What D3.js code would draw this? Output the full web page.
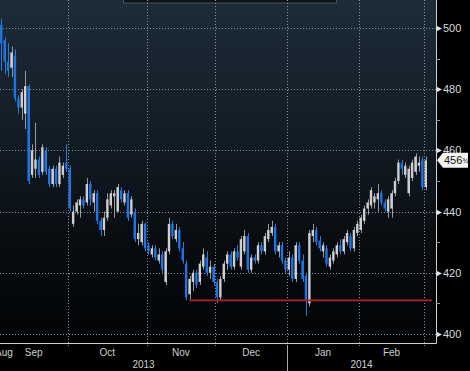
<!DOCTYPE html>
<html>
<head>
<meta charset="utf-8">
<script src="https://cdn.jsdelivr.net/npm/d3@7"></script>
<style>
  html, body { margin: 0; padding: 0; background: #000; }
  svg { display: block; }
  text { font-family: "Liberation Sans", Arial, sans-serif; }
</style>
</head>
<body>
<div id="chart"></div>
<script>
// trading days by month (Aug 30 2013 - Mar 3 2014)
var monthKeys   = ["2013-08", "2013-09", "2013-10", "2013-11", "2013-12", "2014-01", "2014-02", "2014-03"];
var monthLabels = ["Aug", "Sep", "Oct", "Nov", "Dec", "Jan", "Feb", ""];
var aug13 = [30];
var sep13 = [3,4,5,6,9,10,11,12,13,16,17,18,19,20,23,24,25,26,27,30];
var oct13 = [1,2,3,4,7,8,9,10,11,14,15,16,17,18,21,22,23,24,25,28,29,30,31];
var nov13 = [1,4,5,6,7,8,11,12,13,14,15,18,19,20,21,22,25,26,27,29];
var dec13 = [2,3,4,5,6,9,10,11,12,13,16,17,18,19,20,23,24,26,27,30,31];
var jan14 = [2,3,6,7,8,9,10,13,14,15,16,17,21,22,23,24,27,28,29,30,31];
var feb14 = [3,4,5,6,7,10,11,12,13,14,18,19,20,21,24,25,26,27,28];
var mar14 = [3];
var monthDays = [aug13, sep13, oct13, nov13, dec13, jan14, feb14, mar14];

// OHLC
var open = [
  497,501,496,489,487,491,477,474,472,481, 452,454,457,453,460,454,449,454,449,452,
  456,454,436,440,442,444,443,449,443,446, 437,434,438,442,445,440,447,443,446,439,
  440,431,430,436,429,426,428,424,426,417, 427,436,431,434,428,423,413,417,420,417,
  422,425,420,422,417,412,418,423,426,422, 427,422,427,432,421,425,424,429,427,431,
  433,435,427,429,424,421,425,418,429,424, 419,410,432,434,430.5,427,428,422,424,426,
  429,427,430,432,428,433,434,437,441,442, 443,444,446,443,440,441,446,450,456,452,
  446,451,453,455,457,448
];
var high = [
  503,503,497,495,494,493,478,480,486,481.5, 462,469,458,462,461,455,455,455,458,456,
  462,455,442,444,445,445,451,450,447,447, 438,440,446,447,447,449,448,447,447,445,
  441,436,437,436.5,430,429,429,428,427,428, 438,437,436,435,430,424,419,421,421,424,
  428,427,424,423,418,419,424,427,427,428, 429,432,434,433,426,426,430,430,433,436,
  437,436,430,430,425,427,426,430,430,426, 420,434,436,435,432,430,429,426,428,430,
  431,432,434,433,435,437,439,442,444,448, 446,449,447,444,445,447,451,457,457,456,
  455,457,459,458,458,458
];
var low = [
  495,486,485,484,484,476,472,470,467,449, 451,451,451,452,452,448,448,448,448,451,
  453,440,435,439,438,441,442,442,440,436, 432,432,437,441,438,440,443,442,437,438,
  430,429,429,427,426,425,424,423,420,416, 426,431,430,427,423,411,411,414,415,416,
  421,419,418,416,410,411,417,421,421,421, 424,421,426,420,420,423,423,426,426,430,
  432,426,425,423,420,419,417,417,423,417, 406,409,430,429,427,425,422,421,423,425,
  426,426,429,427,427,432,433,436,439,441, 441,440,442,440,438,438,445,449,452,451,
  445,450,452,453,447,447
];
var close = [
  501,495,489,486,492,477,474,479,481,450, 460,457,452,461,453,449,454,449,456,455,
  454,441,440,443,444,442,449,444,446,437, 434,438,444,446,446,448,444,446,438,444,
  431,433,436,428,427,428,425,426,421,427, 436,432,434,428,424,412,418,420,416,423,
  426,420,422,417,412,418,423,426,422,427, 425,431,432,421,425,424,429,427,432,434,
  435,427,429,424,421,425,418,429,424,418, 411,433,434,430,428,429,423,425,427,429,
  427,431,433,428,434,436,438,441,443,447, 445,446,443,441,444,446,450,456,454,455,
  454,456,458,456,448,456.75
];

var supportLevel = 411;
var supportStart = "2013-11-19";
var lastPrice = 456.75;

var yMajor = [400, 420, 440, 460, 480, 500];
var yMinor = [410, 430, 450, 470, 490];
var years = ["2013", "2014"];

// ---- layout
var width = 470, height = 371,
    plotRight = 436, plotBottom = 343;

var dates = [];
monthKeys.forEach(function(k, i) {
  monthDays[i].forEach(function(d) { dates.push(k + "-" + (d < 10 ? "0" + d : d)); });
});

var data = dates.map(function(d, i) {
  return { date: d, month: d.slice(0, 7), o: open[i], h: high[i], l: low[i], c: close[i] };
});

var x = d3.scaleBand()
  .domain(dates)
  .range([-3.9, 427.5])
  .paddingInner(0.3)
  .paddingOuter(0.15);

var y = d3.scaleLinear()
  .domain([400, 500])
  .range([334, 28]);

var step = x.step(), bw = x.bandwidth();
function edge(d) { return x(d) - (step - bw) / 2; }
function mid(d) { return x(d) + bw / 2; }

var svg = d3.select("#chart").append("svg")
  .attr("width", width)
  .attr("height", height);

svg.append("rect").attr("width", width).attr("height", height).attr("fill", "#000");

var defs = svg.append("defs");
var grad = defs.append("linearGradient").attr("id", "bg")
  .attr("x1", 0).attr("y1", 0).attr("x2", 0).attr("y2", 1);
grad.append("stop").attr("offset", "0%").attr("stop-color", "#1d2c38");
grad.append("stop").attr("offset", "40%").attr("stop-color", "#121c25");
grad.append("stop").attr("offset", "72%").attr("stop-color", "#080c10");
grad.append("stop").attr("offset", "100%").attr("stop-color", "#020304");

defs.append("clipPath").attr("id", "plotclip")
  .append("rect").attr("width", plotRight).attr("height", plotBottom);

svg.append("rect")
  .attr("width", plotRight).attr("height", plotBottom)
  .attr("fill", "url(#bg)");

// little box at the top edge
svg.append("rect")
  .attr("x", 123.5).attr("y", -6).attr("width", 213).attr("height", 9)
  .attr("fill", "#0b1117").attr("stroke", "#46545f");

// month boundaries
var monthFirst = monthKeys.map(function(k) {
  return data.filter(function(d) { return d.month === k; })[0].date;
});
var monthLast = monthKeys.map(function(k) {
  var m = data.filter(function(d) { return d.month === k; });
  return m[m.length - 1].date;
});

var grid = svg.append("g").attr("clip-path", "url(#plotclip)");

grid.selectAll(".hgrid")
  .data(yMajor)
  .enter().append("line")
  .attr("x1", 0).attr("x2", plotRight)
  .attr("y1", function(d) { return Math.round(y(d)) + 0.5; })
  .attr("y2", function(d) { return Math.round(y(d)) + 0.5; })
  .attr("stroke", "#8a949c")
  .attr("stroke-dasharray", "1,2");

svg.selectAll(".vgrid")
  .data(monthFirst.slice(2))
  .enter().append("line")
  .attr("x1", function(d) { return Math.round(edge(d)) + 0.5; })
  .attr("x2", function(d) { return Math.round(edge(d)) + 0.5; })
  .attr("y1", 0).attr("y2", plotBottom + 3)
  .attr("stroke", "#8a949c")
  .attr("stroke-dasharray", "1,2");

// candles
var candles = svg.append("g").attr("clip-path", "url(#plotclip)")
  .selectAll(".candle")
  .data(data)
  .enter().append("g");

candles.append("line")
  .attr("x1", function(d) { return Math.round(mid(d.date)) + 0.5; })
  .attr("x2", function(d) { return Math.round(mid(d.date)) + 0.5; })
  .attr("y1", function(d) { return y(d.h); })
  .attr("y2", function(d) { return y(d.l); })
  .attr("stroke", function(d) { return d.c < d.o ? "#2d7be0" : "#9a9a9a"; })
  .attr("stroke-width", 1);

candles.append("rect")
  .attr("x", function(d) { return x(d.date); })
  .attr("width", bw)
  .attr("y", function(d) { return y(Math.max(d.o, d.c)); })
  .attr("height", function(d) { return Math.max(1, Math.abs(y(d.o) - y(d.c))); })
  .attr("fill", function(d) { return d.c < d.o ? "#1f74e6" : "#cfcfcf"; });

// support line
svg.append("line")
  .attr("x1", mid(supportStart)).attr("x2", x.range()[1] + 4.5)
  .attr("y1", y(supportLevel)).attr("y2", y(supportLevel))
  .attr("stroke", "#b3202a")
  .attr("stroke-width", 1.6);

// axes lines
svg.append("line")
  .attr("x1", 0).attr("x2", plotRight + 0.5)
  .attr("y1", plotBottom + 0.5).attr("y2", plotBottom + 0.5)
  .attr("stroke", "#d0d0d0");
svg.append("line")
  .attr("x1", plotRight + 0.5).attr("x2", plotRight + 0.5)
  .attr("y1", 0).attr("y2", plotBottom + 0.5)
  .attr("stroke", "#d0d0d0");

// right axis
var yAxis = svg.append("g");
yAxis.selectAll(".minor")
  .data(yMinor)
  .enter().append("line")
  .attr("x1", plotRight).attr("x2", plotRight + 4)
  .attr("y1", function(d) { return Math.round(y(d)) + 0.5; })
  .attr("y2", function(d) { return Math.round(y(d)) + 0.5; })
  .attr("stroke", "#9a9a9a");

yAxis.selectAll(".tri")
  .data(yMajor)
  .enter().append("path")
  .attr("d", function(d) {
    var yy = Math.round(y(d)) + 0.5;
    return "M" + (plotRight + 1) + "," + (yy - 2.5) + "L" + (plotRight + 6) + "," + yy + "L" + (plotRight + 1) + "," + (yy + 2.5) + "Z";
  })
  .attr("fill", "#e8e8e8");

yAxis.selectAll(".lab")
  .data(yMajor)
  .enter().append("text")
  .attr("x", plotRight + 7)
  .attr("y", function(d) { return y(d) + 4; })
  .attr("font-size", 11)
  .attr("fill", "#d8d8d8")
  .text(function(d) { return d; });

// last price flag
var ly = y(lastPrice);
svg.append("path")
  .attr("d", "M" + (plotRight + 1) + "," + ly + "L" + (plotRight + 7) + "," + (ly - 7.5) +
             "L468," + (ly - 7.5) + "L468," + (ly + 7.5) + "L" + (plotRight + 7) + "," + (ly + 7.5) + "Z")
  .attr("fill", "#f4f4f4");
var lt = svg.append("text")
  .attr("x", plotRight + 8)
  .attr("y", ly + 4)
  .attr("font-size", 11)
  .attr("fill", "#111");
lt.append("tspan").text("456");
lt.append("tspan").attr("font-size", 8).attr("dy", -1).text("¾");

// month labels
svg.selectAll(".mlab")
  .data(monthKeys)
  .enter().append("text")
  .attr("x", function(d, i) {
    var a = edge(monthFirst[i]), b = edge(monthLast[i]) + step;
    return Math.max((a + b) / 2, 4);
  })
  .attr("y", 356)
  .attr("text-anchor", "middle")
  .attr("font-size", 10)
  .attr("fill", "#cfcfcf")
  .text(function(d, i) { return monthLabels[i]; });

// year labels
var yearSplit = edge("2014-01-02");
svg.append("line")
  .attr("x1", Math.round(yearSplit) + 0.5).attr("x2", Math.round(yearSplit) + 0.5)
  .attr("y1", plotBottom + 2).attr("y2", height)
  .attr("stroke", "#aaaaaa");

svg.selectAll(".ylab")
  .data(years)
  .enter().append("text")
  .attr("x", function(d, i) { return i === 0 ? yearSplit / 2 : (yearSplit + plotRight) / 2; })
  .attr("y", 368)
  .attr("text-anchor", "middle")
  .attr("font-size", 10)
  .attr("fill", "#cfcfcf")
  .text(function(d) { return d; });
</script>
</body>
</html>
